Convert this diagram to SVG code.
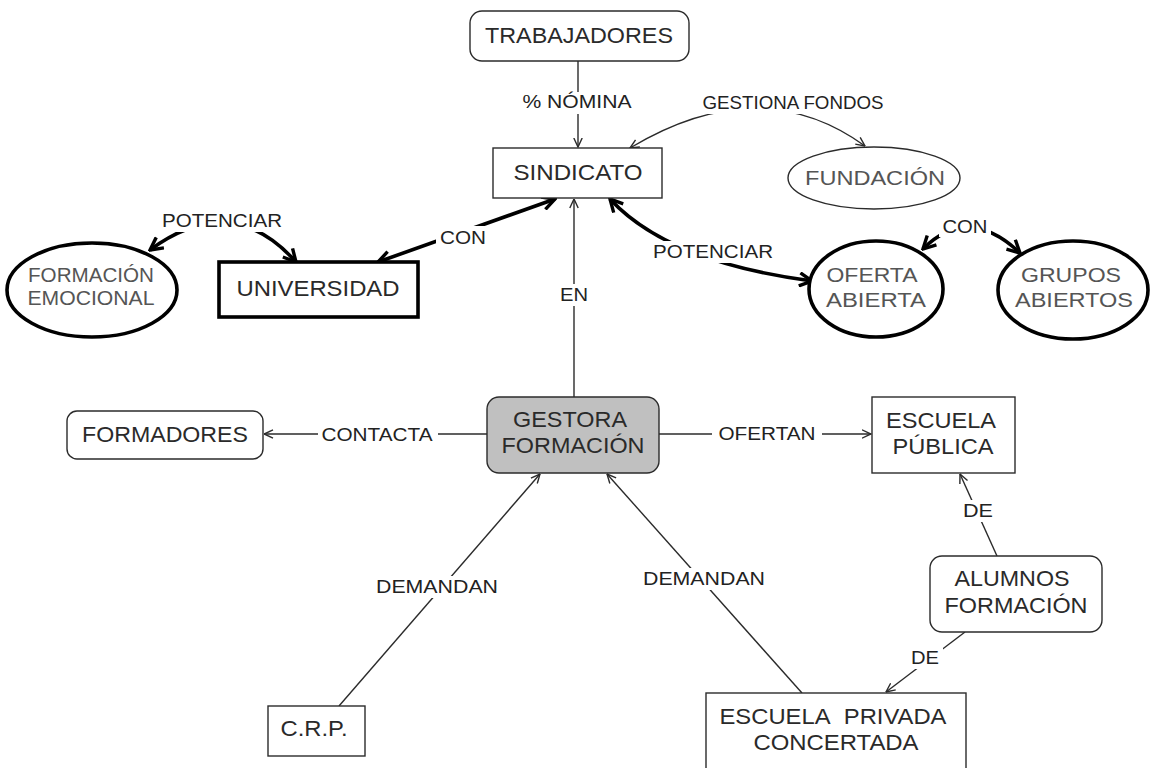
<svg xmlns="http://www.w3.org/2000/svg" width="1152" height="768" viewBox="0 0 1152 768">
  <style>
    .box { fill: #ffffff; stroke: #2b2b2b; stroke-width: 1.4; }
    .bold { fill: #ffffff; stroke: #000000; stroke-width: 3.6; }
    .grey { fill: #c0c0c0; stroke: #2b2b2b; stroke-width: 1.4; }
    .t { font-family: "Liberation Sans", Arial, sans-serif; font-size: 21.5px; fill: #2a2a2a; text-anchor: middle; }
    .tg { font-family: "Liberation Sans", Arial, sans-serif; font-size: 20.5px; fill: #555555; text-anchor: middle; }
    .lb { font-family: "Liberation Sans", Arial, sans-serif; font-size: 18.5px; fill: #222222; text-anchor: middle; }
    .thin { fill: none; stroke: #2b2b2b; stroke-width: 1.4; }
    .thick { fill: none; stroke: #000000; stroke-width: 3.6; }
    .bg { fill: #ffffff; }
  </style>
  <defs>
    <marker id="a" viewBox="0 0 10 10" refX="9.5" refY="5" markerWidth="10" markerHeight="10" markerUnits="userSpaceOnUse" orient="auto-start-reverse">
      <path d="M0.5,0.8 L9.5,5 L0.5,9.2" fill="none" stroke="#2b2b2b" stroke-width="1.4"/>
    </marker>
    <marker id="A" viewBox="0 0 16 16" refX="14" refY="8" markerWidth="16" markerHeight="16" markerUnits="userSpaceOnUse" orient="auto-start-reverse">
      <path d="M1.5,1.5 L14,8 L1.5,14.5" fill="none" stroke="#000000" stroke-width="3.4"/>
    </marker>
  </defs>

  <!-- connectors -->
  <g id="connectors">
    <line class="thin" x1="578" y1="61" x2="578" y2="147" marker-end="url(#a)"/>
    <path class="thin" d="M630,148 Q760,70 865,146" marker-start="url(#a)" marker-end="url(#a)"/>
    <path class="thick" d="M150,250 Q232,190 296,262" marker-start="url(#A)" marker-end="url(#A)"/>
    <line class="thick" x1="378" y1="262" x2="555" y2="199" marker-start="url(#A)" marker-end="url(#A)"/>
    <path class="thick" d="M610,199 Q668,262 812,281" marker-start="url(#A)" marker-end="url(#A)"/>
    <path class="thick" d="M923,249 Q968,204 1020,253" marker-start="url(#A)" marker-end="url(#A)"/>
    <line class="thin" x1="574" y1="397" x2="574" y2="199" marker-end="url(#a)"/>
    <line class="thin" x1="487" y1="434" x2="264" y2="434" marker-end="url(#a)"/>
    <line class="thin" x1="659" y1="434" x2="871" y2="434" marker-end="url(#a)"/>
    <line class="thin" x1="339" y1="706" x2="540" y2="474" marker-end="url(#a)"/>
    <line class="thin" x1="802" y1="693" x2="607" y2="474" marker-end="url(#a)"/>
    <line class="thin" x1="997" y1="556" x2="960" y2="474" marker-end="url(#a)"/>
    <line class="thin" x1="965" y1="632" x2="886" y2="692" marker-end="url(#a)"/>

    <!-- linking phrases -->
    <rect class="bg" x="516" y="92" width="122" height="22"/>
    <text class="lb" x="577" y="108" font-size="19" textLength="109" lengthAdjust="spacingAndGlyphs">% NÓMINA</text>
    <rect class="bg" x="700" y="94" width="186" height="20"/>
    <text class="lb" x="793" y="109" font-size="16.5" textLength="181" lengthAdjust="spacingAndGlyphs">GESTIONA FONDOS</text>
    <rect class="bg" x="158" y="210" width="128" height="22"/>
    <text class="lb" x="222" y="227" textLength="120" lengthAdjust="spacingAndGlyphs">POTENCIAR</text>
    <rect class="bg" x="436" y="226" width="54" height="22"/>
    <text class="lb" x="463" y="244" textLength="46" lengthAdjust="spacingAndGlyphs">CON</text>
    <rect class="bg" x="560" y="284" width="28" height="22"/>
    <text class="lb" x="574" y="301" textLength="28" lengthAdjust="spacingAndGlyphs">EN</text>
    <rect class="bg" x="649" y="241" width="128" height="22"/>
    <text class="lb" x="713" y="258" textLength="120" lengthAdjust="spacingAndGlyphs">POTENCIAR</text>
    <rect class="bg" x="939" y="215" width="52" height="22"/>
    <text class="lb" x="965" y="233" textLength="45" lengthAdjust="spacingAndGlyphs">CON</text>
    <rect class="bg" x="318" y="424" width="120" height="22"/>
    <text class="lb" x="377" y="441" textLength="111" lengthAdjust="spacingAndGlyphs">CONTACTA</text>
    <rect class="bg" x="712" y="424" width="110" height="22"/>
    <text class="lb" x="767" y="440" textLength="97" lengthAdjust="spacingAndGlyphs">OFERTAN</text>
    <rect class="bg" x="372" y="576" width="130" height="22"/>
    <text class="lb" x="437" y="593" textLength="122" lengthAdjust="spacingAndGlyphs">DEMANDAN</text>
    <rect class="bg" x="639" y="568" width="130" height="22"/>
    <text class="lb" x="704" y="585" textLength="122" lengthAdjust="spacingAndGlyphs">DEMANDAN</text>
    <rect class="bg" x="960" y="500" width="36" height="22"/>
    <text class="lb" x="978" y="517" textLength="30" lengthAdjust="spacingAndGlyphs">DE</text>
    <rect class="bg" x="907" y="647" width="36" height="22"/>
    <text class="lb" x="925" y="664" textLength="28" lengthAdjust="spacingAndGlyphs">DE</text>
  </g>

  <!-- concepts -->
  <g id="trabajadores">
    <rect class="box" x="470" y="11" width="219" height="50" rx="12"/>
    <text class="t" x="579" y="43" textLength="188" lengthAdjust="spacingAndGlyphs">TRABAJADORES</text>
  </g>
  <g id="sindicato">
    <rect class="box" x="493" y="148" width="169" height="50"/>
    <text class="t" x="578" y="180" textLength="129" lengthAdjust="spacingAndGlyphs">SINDICATO</text>
  </g>
  <g id="fundacion">
    <ellipse class="box" cx="874" cy="178" rx="86" ry="31"/>
    <text class="tg" x="875" y="185" font-size="21" textLength="140" lengthAdjust="spacingAndGlyphs">FUNDACIÓN</text>
  </g>
  <g id="formacion-emocional">
    <ellipse class="bold" cx="92" cy="290" rx="85" ry="47"/>
    <text class="tg" x="91" y="282" font-size="18.5" textLength="126" lengthAdjust="spacingAndGlyphs">FORMACIÓN</text>
    <text class="tg" x="91" y="305" font-size="18.5" textLength="127" lengthAdjust="spacingAndGlyphs">EMOCIONAL</text>
  </g>
  <g id="universidad">
    <rect class="bold" x="219" y="262" width="199" height="55"/>
    <text class="t" x="318" y="296" textLength="163" lengthAdjust="spacingAndGlyphs">UNIVERSIDAD</text>
  </g>
  <g id="oferta-abierta">
    <ellipse class="bold" cx="876" cy="289" rx="67" ry="48"/>
    <text class="tg" x="872" y="282" textLength="91" lengthAdjust="spacingAndGlyphs">OFERTA</text>
    <text class="tg" x="876" y="307" textLength="100" lengthAdjust="spacingAndGlyphs">ABIERTA</text>
  </g>
  <g id="grupos-abiertos">
    <ellipse class="bold" cx="1073" cy="290" rx="75" ry="49"/>
    <text class="tg" x="1071" y="282" textLength="100" lengthAdjust="spacingAndGlyphs">GRUPOS</text>
    <text class="tg" x="1074" y="307" textLength="118" lengthAdjust="spacingAndGlyphs">ABIERTOS</text>
  </g>
  <g id="formadores">
    <rect class="box" x="67" y="411" width="196" height="48" rx="10"/>
    <text class="t" x="165" y="442" textLength="166" lengthAdjust="spacingAndGlyphs">FORMADORES</text>
  </g>
  <g id="gestora-formacion">
    <rect class="grey" x="487" y="397" width="172" height="76" rx="12"/>
    <text class="t" x="570" y="427" textLength="114" lengthAdjust="spacingAndGlyphs">GESTORA</text>
    <text class="t" x="573" y="453" textLength="143" lengthAdjust="spacingAndGlyphs">FORMACIÓN</text>
  </g>
  <g id="escuela-publica">
    <rect class="box" x="872" y="397" width="143" height="76"/>
    <text class="t" x="941" y="428" textLength="110" lengthAdjust="spacingAndGlyphs">ESCUELA</text>
    <text class="t" x="943" y="454" textLength="101" lengthAdjust="spacingAndGlyphs">PÚBLICA</text>
  </g>
  <g id="alumnos-formacion">
    <rect class="box" x="930" y="556" width="172" height="76" rx="12"/>
    <text class="t" x="1012" y="586" textLength="115" lengthAdjust="spacingAndGlyphs">ALUMNOS</text>
    <text class="t" x="1016" y="613" textLength="143" lengthAdjust="spacingAndGlyphs">FORMACIÓN</text>
  </g>
  <g id="escuela-privada">
    <rect class="box" x="706" y="693" width="260" height="85"/>
    <text class="t" x="833" y="724" textLength="227" lengthAdjust="spacingAndGlyphs">ESCUELA&#160; PRIVADA</text>
    <text class="t" x="836" y="750" textLength="165" lengthAdjust="spacingAndGlyphs">CONCERTADA</text>
  </g>
  <g id="crp">
    <rect class="box" x="268" y="706" width="97" height="50"/>
    <text class="t" x="314" y="736" textLength="67" lengthAdjust="spacingAndGlyphs">C.R.P.</text>
  </g>
</svg>
